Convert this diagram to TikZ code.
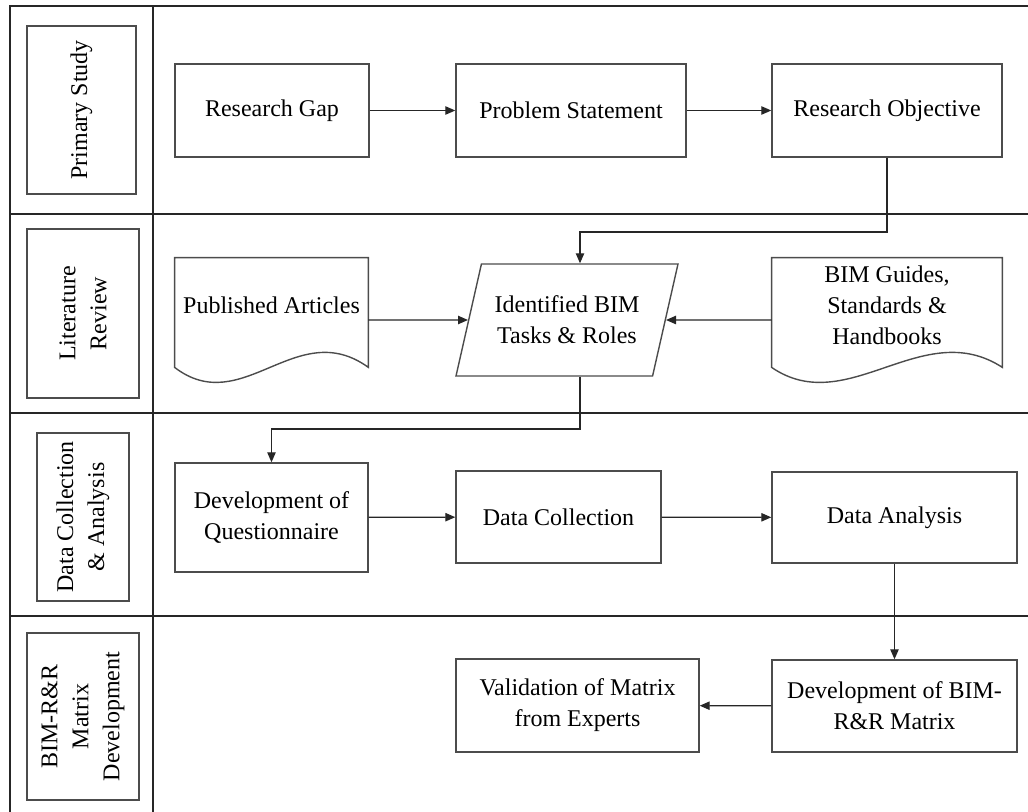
\documentclass[tikz,border=0pt]{standalone}
\usepackage{fontspec}
\setmainfont{Liberation Serif}
\usepackage{tikz}
\usepackage{xcolor}
\usetikzlibrary{arrows.meta}
\usetikzlibrary{shapes.geometric}

\tikzset{
    box/.style={draw=black!70, line width=0.7pt, align=center, inner sep=1pt},
    lanebox/.style={box, rotate=90},
    docbox/.style={align=center, inner sep=1pt},
    lane/.style={draw=black!85, line width=0.7pt},
    flow/.style={draw=black!85, line width=0.6pt, -{Triangle[length=5pt,width=4.2pt]}},
}

\begin{document}
\begin{tikzpicture}[x=0.5pt, y=-0.5pt, font=\fontsize{12}{15.5}\selectfont]
    \useasboundingbox (0, 0) rectangle (1028, 812);

    \draw [lane] (1028, 6) -- (10, 6) -- (10, 812);
    \draw [lane] (153, 6) -- (153, 812);
    \draw [lane] (10, 214) -- (1028, 214);
    \draw [lane] (10, 413) -- (1028, 413);
    \draw [lane] (10, 616) -- (1028, 616);

    \path (81.5, 110) node [lanebox, minimum width=84pt, minimum height=54.5pt] (lps) {Primary Study};
    \path (83, 313.5) node [lanebox, minimum width=84.5pt, minimum height=56pt] (llr) {Literature\\Review};
    \path (83, 517) node [lanebox, minimum width=84pt, minimum height=46pt] (ldc) {Data Collection\\\& Analysis};
    \path (83, 716.5) node [lanebox, minimum width=83.5pt, minimum height=56pt] (lmd) {BIM-R\&R\\Matrix\\Development};

    \path (272, 110.5) node [box, minimum width=97pt, minimum height=46.5pt] (rg) {Research Gap};
    \path (571, 110.5) node [box, minimum width=115pt, minimum height=46.5pt] (ps) {Problem Statement};
    \path (887, 110.5) node [box, minimum width=115pt, minimum height=46.5pt] (ro) {Research Objective};
    \draw [flow] (rg) -- (ps);
    \draw [flow] (ps) -- (ro);

    \path (271.5, 305) node [docbox, minimum width=96.5pt, minimum height=47pt] (pa) {Published Articles};
    \draw [box] (pa.north west) -- (pa.north east) -- ([yshift=-7.5pt]pa.south east)
        .. controls +(-36pt, 26pt) and +(34pt, -26pt) .. ([yshift=-7.5pt]pa.south west) -- cycle;
    \path (887, 305) node [docbox, minimum width=115pt, minimum height=47pt] (bg) {BIM Guides,\\Standards \&\\Handbooks};
    \draw [box] (bg.north west) -- (bg.north east) -- ([yshift=-7.5pt]bg.south east)
        .. controls +(-40pt, 26pt) and +(38pt, -26pt) .. ([yshift=-7.5pt]bg.south west) -- cycle;
    \path (567, 320) node [box, trapezium, trapezium left angle=64, trapezium right angle=116,
        trapezium stretches body=true, minimum width=111pt, minimum height=56pt] (ibim) {Identified BIM\\Tasks \& Roles};
    \coordinate (k1) at (580, 232);
    \draw [flow] (ro.south) |- (k1) -- (k1 |- ibim.north);
    \draw [flow] (pa.east |- ibim) -- (ibim);
    \draw [flow] (bg.west |- ibim) -- (ibim);

    \path (271.5, 517.5) node [box, minimum width=96.5pt, minimum height=54.5pt] (dq) {Development of\\Questionnaire};
    \path (558.5, 517) node [box, minimum width=102.5pt, minimum height=46pt] (dc) {Data Collection};
    \path (894.5, 517.5) node [box, minimum width=122.5pt, minimum height=45.5pt] (da) {Data Analysis};
    \coordinate (k2) at (580, 429);
    \draw [flow] (k2 |- ibim.south) -- (k2) -| (dq.north);
    \draw [flow] (dq) -- (dc);
    \draw [flow] (dc) -- (da);

    \path (577.5, 705.5) node [box, minimum width=121.5pt, minimum height=46.5pt] (vm) {Validation of Matrix\\from Experts};
    \path (894.5, 706) node [box, minimum width=122.5pt, minimum height=46pt] (dm) {Development of BIM-\\R\&R Matrix};
    \draw [flow] (da) -- (dm);
    \draw [flow] (dm) -- (vm);
\end{tikzpicture}
\end{document}
